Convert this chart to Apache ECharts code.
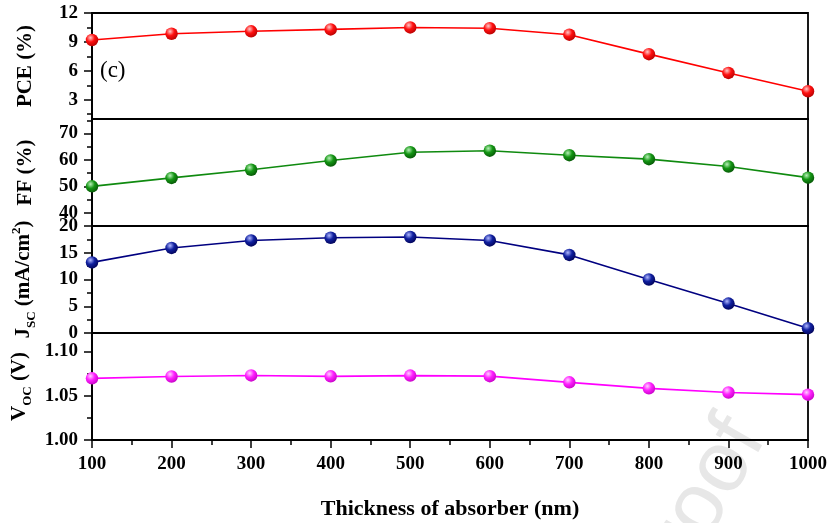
<!DOCTYPE html>
<html>
<head>
<meta charset="utf-8">
<script src="https://cdn.jsdelivr.net/npm/echarts@6/dist/echarts.min.js"></script>
<style>html,body{margin:0;padding:0;background:#fff}#c{width:830px;height:523px}</style>
</head>
<body>
<div id="c"></div>
<script>
// ---- data ----
var thickness = [100, 200, 300, 400, 500, 600, 700, 800, 900, 1000];
var pce = [9.2, 9.85, 10.1, 10.3, 10.5, 10.42, 9.75, 7.73, 5.78, 3.88];
var ff  = [50.0, 53.2, 56.3, 59.8, 62.9, 63.5, 61.8, 60.3, 57.5, 53.3];
var jsc = [13.2, 15.9, 17.3, 17.8, 17.95, 17.3, 14.6, 10.0, 5.5, 0.9];
var voc = [1.0697, 1.0718, 1.0730, 1.0720, 1.0728, 1.0722, 1.0652, 1.0584, 1.0537, 1.0513];
var xTicks = [100, 200, 300, 400, 500, 600, 700, 800, 900, 1000];
var pceTicks = [3, 6, 9, 12];
var pceMinor = [1.5, 4.5, 7.5, 10.5];
var ffTicks = [40, 50, 60, 70];
var ffMinor = [45, 55, 65, 75];
var jscTicks = [0, 5, 10, 15, 20];
var jscMinor = [2.5, 7.5, 12.5, 17.5];
var vocTicks = [1.00, 1.05, 1.10];
var vocMinor = [1.025, 1.075];

var FONT = '"Liberation Serif","Times New Roman",serif';
var L = 92, R = 22;
var bounds = [13, 119, 226, 333, 440];

function grad(light, mid, dark) {
  return { type: 'radial', x: 0.38, y: 0.32, r: 0.75,
    colorStops: [{offset: 0, color: light}, {offset: 0.45, color: mid}, {offset: 1, color: dark}] };
}
var styles = [
  {line: '#ff0000', fill: grad('#ffc8c8', '#ff1010', '#b00000')},
  {line: '#0f8a0f', fill: grad('#b8f0b8', '#149614', '#055005')},
  {line: '#000080', fill: grad('#b0b8ff', '#1020a0', '#000050')},
  {line: '#ff00ff', fill: grad('#ffd0ff', '#ff20ff', '#c000c0')}
];

var grids = [], xAxes = [], yAxes = [], series = [];
var datasets = [pce, ff, jsc, voc];
var yDefs = [
  {min: 1, max: 12, ticks: pceTicks, minor: pceMinor, fmt: function(v){return String(Math.round(v));},
   name: 'PCE (%)', gap: 56},
  {min: 35, max: 75.5, ticks: ffTicks, minor: ffMinor, fmt: function(v){return String(Math.round(v));},
   name: 'FF (%)', gap: 56},
  {min: 0, max: 20, ticks: jscTicks, minor: jscMinor, fmt: function(v){return String(Math.round(v));},
   name: '{m|J}{sub|SC}{m| (mA/cm}{sup|2}{m|)}', gap: 54},
  {min: 1.0, max: 1.121, ticks: vocTicks, minor: vocMinor, fmt: function(v){return v.toFixed(2);},
   name: '{m|V}{sub|OC}{m| (V)}', gap: 54}
];
var richName = {
  m: {fontFamily: FONT, fontWeight: 'bold', fontSize: 21, color: '#000', lineHeight: 28, verticalAlign: 'middle'},
  sub: {fontFamily: FONT, fontWeight: 'bold', fontSize: 13, color: '#000', lineHeight: 28, verticalAlign: 'bottom'},
  sup: {fontFamily: FONT, fontWeight: 'bold', fontSize: 13, color: '#000', lineHeight: 28, verticalAlign: 'top'}
};

for (var i = 0; i < 4; i++) {
  grids.push({left: L, right: R, top: bounds[i], height: bounds[i + 1] - bounds[i],
    show: true, borderColor: '#000', borderWidth: 1.8, backgroundColor: 'transparent'});
  var isBottom = (i === 3);
  xAxes.push({
    type: 'value', gridIndex: i, min: 100, max: 1000, interval: 100,
    axisLine: {show: true, lineStyle: {color: '#000', width: 1.8}},
    axisTick: {show: isBottom, inside: false, length: 8, lineStyle: {color: '#000', width: 1.5}},
    minorTick: {show: isBottom, splitNumber: 2, length: 5, lineStyle: {color: '#000', width: 1.5}},
    axisLabel: {show: isBottom, margin: 15, fontFamily: FONT, fontWeight: 'bold', fontSize: 19, color: '#000',
      formatter: function(v){ return String(v); }},
    splitLine: {show: false},
    name: isBottom ? 'Thickness of absorber (nm)' : '',
    nameLocation: 'middle', nameGap: 58,
    nameTextStyle: {fontFamily: FONT, fontWeight: 'bold', fontSize: 22, color: '#000'}
  });
  var d = yDefs[i];
  yAxes.push({
    type: 'value', gridIndex: i, min: d.min, max: d.max, position: 'left',
    axisLine: {show: true, lineStyle: {color: '#000', width: 1.8}},
    axisTick: {show: true, length: 8, customValues: d.ticks, lineStyle: {color: '#000', width: 1.5}},
    axisLabel: {show: true, customValues: d.ticks, formatter: d.fmt, margin: 14,
      fontFamily: FONT, fontWeight: 'bold', fontSize: 19, color: '#000'},
    splitLine: {show: false},
    name: d.name, nameLocation: 'middle', nameGap: d.gap, nameRotate: 90,
    nameTextStyle: {fontFamily: FONT, fontWeight: 'bold', fontSize: 21, color: '#000', rich: richName}
  });
  // minor-tick axis overlay
  yAxes.push({
    type: 'value', gridIndex: i, min: d.min, max: d.max, position: 'left', offset: 0,
    axisLine: {show: false},
    axisTick: {show: true, length: 5, customValues: d.minor, lineStyle: {color: '#000', width: 1.5}},
    axisLabel: {show: false},
    splitLine: {show: false}
  });
  var pts = thickness.map(function(x, k){ return [x, datasets[i][k]]; });
  series.push({
    type: 'line', xAxisIndex: i, yAxisIndex: i * 2, data: pts,
    symbol: 'circle', symbolSize: 12.5, clip: false,
    lineStyle: {color: styles[i].line, width: 1.6},
    itemStyle: {color: styles[i].fill, borderWidth: 0},
    z: 3
  });
}

var chart = echarts.init(document.getElementById('c'), null, {renderer: 'canvas'});
chart.setOption({
  animation: false,
  backgroundColor: '#fff',
  grid: grids, xAxis: xAxes, yAxis: yAxes, series: series,
  graphic: [
    {type: 'text', left: 100, top: 59, z: 10,
     style: {text: '(c)', fontFamily: FONT, fontSize: 23, fill: '#000'}},
    {type: 'text', x: 746, y: 426, rotation: 60 * Math.PI / 180, z: -10, silent: true,
     style: {text: 'Pre-proof', fontFamily: '"Liberation Sans",Arial,sans-serif', fontSize: 86,
       fill: '#e7e7e7', align: 'right', verticalAlign: 'middle'}}
  ]
});
</script>
</body>
</html>
